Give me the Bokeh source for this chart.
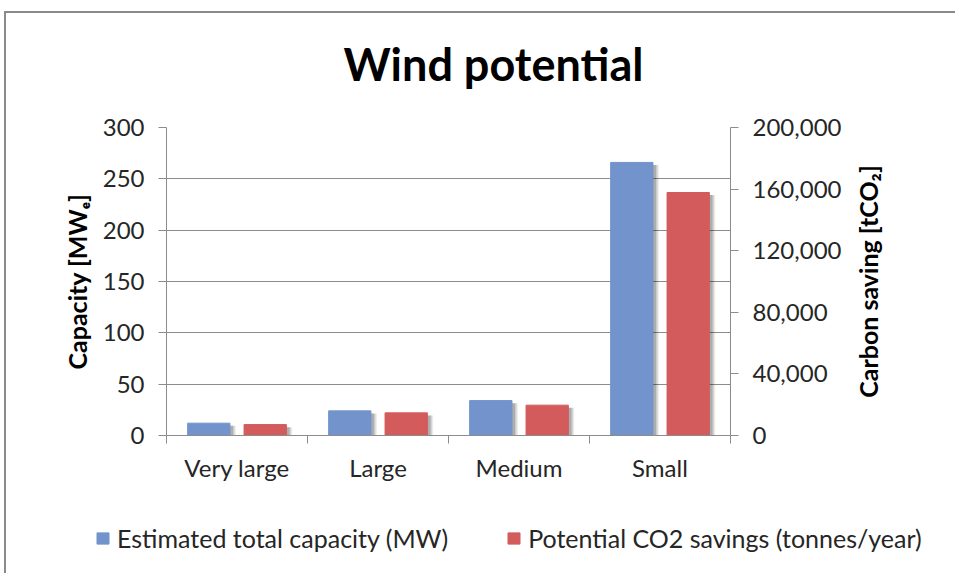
from bokeh.plotting import figure
from bokeh.layouts import row
from bokeh.models import (ColumnDataSource, Range1d, LinearAxis, FixedTicker,
                          NumeralTickFormatter, Legend, LegendItem, Label)
from bokeh.transform import dodge
from bokeh.embed import file_html
from bokeh.resources import INLINE
import numpy as np

title_text = "Wind potential"
categories = ["Very large", "Large", "Medium", "Small"]
capacity_mw = [12, 24, 34, 266]
co2_savings = [7100, 14700, 19700, 157800]
left_ticks = [0, 50, 100, 150, 200, 250, 300]
right_ticks = [0, 40000, 80000, 120000, 160000, 200000]
left_label = "Capacity [MWₑ]"
right_label = "Carbon saving [tCO₂]"
series_names = ["Estimated total capacity (MW)", "Potential CO2 savings (tonnes/year)"]

BLUE = "#7293CB"
RED = "#D35B5C"
GRID = "#8C8C8C"
BORDER = "2px solid #8a8a8a"
FONT = "Lato"

pos = (np.arange(len(categories)) + 0.5).tolist()
src = ColumnDataSource(dict(x=pos, cap=capacity_mw, co2=co2_savings))


def strip(width, height, **styles):
    f = figure(width=width, height=height, output_backend="svg", toolbar_location=None,
               x_range=Range1d(0, 1), y_range=Range1d(0, 1), x_axis_type=None,
               y_axis_type=None, min_border=0, outline_line_color=None, styles=styles)
    f.grid.grid_line_color = None
    return f


# ---- title strip ----
ts = strip(951, 87, **{"border-top": BORDER, "border-left": BORDER,
                       "margin-left": "4px", "margin-top": "11px"})
ts.add_layout(Label(x=337, y=37, x_units="screen", y_units="screen", text=title_text,
                    text_font=FONT, text_font_size="45px", text_font_style="bold",
                    text_color="#000000", text_baseline="alphabetic", text_align="left"))

# ---- main plot ----
p = figure(width=840, height=395, output_backend="svg", toolbar_location=None,
           x_range=Range1d(0, len(categories)), y_range=Range1d(0, 300),
           min_border_left=160, min_border_right=116, min_border_top=29,
           min_border_bottom=58, outline_line_color=None,
           styles={"border-left": BORDER})
p.extra_y_ranges = {"co2": Range1d(0, 200000)}

for off, a in [(0.022, 0.16), (0.032, 0.12), (0.042, 0.08)]:
    p.vbar(x=dodge("x", -0.2 + off), top=dodge("cap", -2.5), bottom=0, width=0.3,
           source=src, fill_color="#000000", fill_alpha=a, line_color=None)
    p.vbar(x=dodge("x", 0.2 + off), top=dodge("co2", -1700), bottom=0, width=0.3,
           source=src, fill_color="#000000", fill_alpha=a, line_color=None,
           y_range_name="co2")

r1 = p.vbar(x=dodge("x", -0.2), top="cap", bottom=0, width=0.3, source=src,
            fill_color=BLUE, line_color=BLUE)
r2 = p.vbar(x=dodge("x", 0.2), top="co2", bottom=0, width=0.3, source=src,
            fill_color=RED, line_color=RED, y_range_name="co2")

xa = p.xaxis[0]
xa.ticker = FixedTicker(ticks=pos, minor_ticks=list(range(len(categories) + 1)))
xa.major_label_overrides = {v: c for v, c in zip(pos, categories)}
xa.major_tick_in = 0
xa.major_tick_out = 0
xa.minor_tick_in = 0
xa.minor_tick_out = 8
xa.minor_tick_line_color = GRID
xa.axis_line_color = GRID
xa.major_label_text_font = FONT
xa.major_label_text_font_size = "24px"
xa.major_label_text_color = "#262626"
xa.major_label_standoff = 9

ya = p.yaxis[0]
ya.ticker = FixedTicker(ticks=left_ticks)
ya.axis_label = left_label

ra = LinearAxis(y_range_name="co2", ticker=FixedTicker(ticks=right_ticks),
                formatter=NumeralTickFormatter(format="0,0"))
p.add_layout(ra, "right")

for ax in [ya, ra]:
    ax.axis_line_color = GRID
    ax.major_tick_line_color = GRID
    ax.major_tick_in = 0
    ax.major_tick_out = 8
    ax.minor_tick_line_color = None
    ax.major_label_text_font = FONT
    ax.major_label_text_font_size = "24px"
    ax.major_label_text_color = "#262626"
    ax.major_label_standoff = 14
ya.axis_label_text_font = FONT
ya.axis_label_text_font_size = "25px"
ya.axis_label_text_font_style = "bold"
ya.axis_label_text_color = "#000000"
ya.axis_label_standoff = 8

p.xgrid.grid_line_color = None
p.ygrid.grid_line_color = GRID
p.ygrid.ticker = FixedTicker(ticks=left_ticks)

# ---- right label strip (its left-axis label reads bottom-to-top) ----
rs = figure(width=111, height=395, output_backend="svg", toolbar_location=None,
            x_range=Range1d(0, 1), y_range=p.extra_y_ranges["co2"], x_axis_type=None,
            min_border_left=43, min_border_right=0, min_border_top=29,
            min_border_bottom=58, outline_line_color=None)
rs.grid.grid_line_color = None
rya = rs.yaxis[0]
rya.ticker = FixedTicker(ticks=[])
rya.axis_line_color = None
rya.major_tick_line_color = None
rya.minor_tick_line_color = None
rya.major_label_text_font_size = "0px"
rya.axis_label = right_label
rya.axis_label_text_font = FONT
rya.axis_label_text_font_size = "25px"
rya.axis_label_text_font_style = "bold"
rya.axis_label_text_color = "#000000"
rya.axis_label_standoff = 5

main_row = row(p, rs, spacing=0, styles={"margin-left": "4px"})

# ---- legend strip ----
lg = strip(951, 80, **{"border-left": BORDER, "margin-left": "4px"})
l1 = lg.vbar(x="x", top="cap", width=0.3, source=src, fill_color=BLUE, line_color=BLUE,
             visible=False)
l2 = lg.vbar(x="x", top="co2", width=0.3, source=src, fill_color=RED, line_color=RED,
             visible=False)
legend = Legend(items=[LegendItem(label=series_names[0], renderers=[l1]),
                       LegendItem(label=series_names[1], renderers=[l2])],
                orientation="horizontal", location=(89, 20),
                label_text_font=FONT, label_text_font_size="25px",
                label_text_color="#262626", glyph_width=15, glyph_height=14,
                spacing=58, label_standoff=7, border_line_color=None,
                background_fill_alpha=0, margin=0, padding=0)
lg.add_layout(legend, "center")

open("out.html", "w").write(file_html([ts, main_row, lg], INLINE))
